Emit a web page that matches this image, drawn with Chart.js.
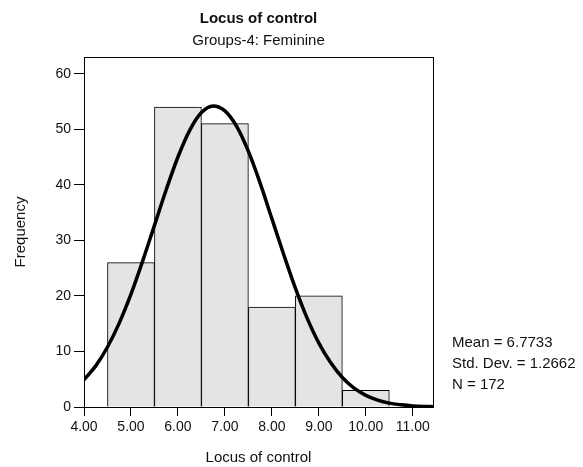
<!DOCTYPE html>
<html>
<head>
<meta charset="utf-8">
<script src="https://cdn.jsdelivr.net/npm/chart.js@4.4.1/dist/chart.umd.min.js"></script>
<style>
  html, body { margin: 0; padding: 0; background: #fff; }
  #wrap { width: 583px; height: 467px; }
</style>
</head>
<body>
<div id="wrap"><canvas id="hist"></canvas></div>
<script>
// histogram bins (centre of each bar) and counts
var binCenters  = [5, 6, 7, 8, 9, 10];
var frequencies = [26, 54, 51, 18, 20, 3];

// fitted normal curve
var curveX = [4.0, 4.25, 4.5, 4.75, 5.0, 5.25, 5.5, 5.75, 6.0, 6.25, 6.5, 6.75, 7.0, 7.25, 7.5, 7.75,
              8.0, 8.25, 8.5, 8.75, 9.0, 9.25, 9.5, 9.75, 10.0, 10.25, 10.5, 10.75, 11.0, 11.25, 11.43];
var curveY = [4.9, 7.4, 10.8, 15.1, 20.3, 26.3, 32.7, 39.1, 45.0, 49.8, 53.0, 54.2, 53.3, 50.5, 46.0, 40.3,
              33.9, 27.5, 21.4, 16.0, 11.5, 8.0, 5.3, 3.4, 2.1, 1.25, 0.7, 0.4, 0.2, 0.1, 0.06];

var statLines = ["Mean = 6.7733", "Std. Dev. = 1.2662", "N = 172"];

var fontFamily = "'Liberation Sans', Arial, Helvetica, sans-serif";

window.onload = function() {
    var barData = binCenters.map(function(c, i) { return {x: c, y: frequencies[i]}; });
    var lineData = curveX.map(function(x, i) { return {x: x, y: curveY[i]}; });

    // box around plot + stats text on the right
    var framePlugin = {
        id: 'frame',
        afterDraw: function(chart) {
            var a = chart.chartArea, ctx = chart.ctx;
            ctx.save();
            ctx.strokeStyle = '#000';
            ctx.lineWidth = 1;
            ctx.strokeRect(a.left + 0.5, a.top + 0.5, a.right - a.left, a.bottom - a.top);
            ctx.fillStyle = '#111';
            ctx.font = '15px ' + fontFamily;
            ctx.textAlign = 'left';
            ctx.textBaseline = 'alphabetic';
            for (var i = 0; i < statLines.length; i++) {
                ctx.fillText(statLines[i], 452, 347 + i * 21);
            }
            ctx.restore();
        }
    };

    var ctx = document.getElementById("hist").getContext('2d');
    new Chart(ctx, {
        data: {
            datasets: [{
                type: 'line',
                data: lineData,
                borderColor: '#000',
                borderWidth: 3.5,
                pointRadius: 0,
                cubicInterpolationMode: 'monotone',
                fill: false,
                order: 0
            }, {
                type: 'bar',
                data: barData,
                backgroundColor: '#e4e4e4',
                borderColor: '#000',
                borderWidth: 1,
                barPercentage: 1,
                categoryPercentage: 1,
                order: 1
            }]
        },
        options: {
            responsive: true,
            maintainAspectRatio: false,
            animation: false,
            layout: { padding: { left: 0, right: 150, top: 0, bottom: 0 } },
            plugins: {
                legend: { display: false },
                tooltip: { enabled: false },
                title: {
                    display: true,
                    fullSize: false,
                    text: 'Locus of control',
                    color: '#111',
                    font: { family: fontFamily, size: 15, weight: 'bold' },
                    padding: { top: 10, bottom: 4 }
                },
                subtitle: {
                    display: true,
                    fullSize: false,
                    text: 'Groups-4: Feminine',
                    color: '#111',
                    font: { family: fontFamily, size: 15 },
                    padding: { top: 0, bottom: 7 }
                }
            },
            scales: {
                x: {
                    type: 'linear',
                    offset: false,
                    min: 4,
                    max: 11.43,
                    afterFit: function(scale) { scale.height = 60; },
                    border: { color: '#000', width: 1 },
                    grid: { offset: false, drawOnChartArea: false, color: '#000', tickLength: 9 },
                    ticks: {
                        stepSize: 1,
                        includeBounds: false,
                        color: '#111',
                        padding: 3,
                        maxRotation: 0,
                        font: { family: fontFamily, size: 14 },
                        callback: function(v) { return Number(v).toFixed(2); }
                    },
                    title: {
                        display: true,
                        text: 'Locus of control',
                        color: '#111',
                        font: { family: fontFamily, size: 15 },
                        padding: { top: 10, bottom: 0 }
                    }
                },
                y: {
                    min: 0,
                    max: 63,
                    afterFit: function(scale) { scale.width = 84; },
                    border: { color: '#000', width: 1 },
                    grid: { drawOnChartArea: false, color: '#000', tickLength: 10 },
                    ticks: {
                        stepSize: 10,
                        includeBounds: false,
                        color: '#111',
                        padding: 3,
                        font: { family: fontFamily, size: 14 }
                    },
                    title: {
                        display: true,
                        text: 'Frequency',
                        color: '#111',
                        font: { family: fontFamily, size: 15 },
                        padding: { top: 12, bottom: 0 }
                    }
                }
            }
        },
        plugins: [framePlugin]
    });
};
</script>
</body>
</html>
